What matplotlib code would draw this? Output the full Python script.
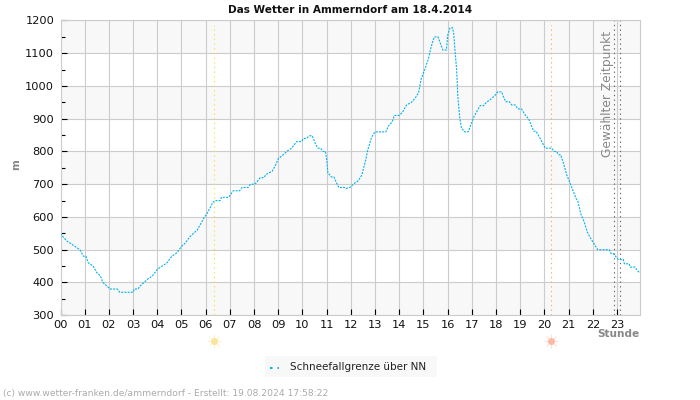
import matplotlib
matplotlib.use("Agg")
import matplotlib.pyplot as plt
from matplotlib.patches import Rectangle
from matplotlib.lines import Line2D

hours = [0.0,0.1,0.25,0.4,0.6,0.8,0.95,1.05,1.15,1.35,1.5,1.65,1.75,1.9,2.05,2.35,2.45,3.0,3.05,3.2,3.3,3.45,3.6,3.8,4.0,4.2,4.4,4.6,4.8,5.0,5.15,5.35,5.5,5.65,5.8,5.95,6.05,6.2,6.3,6.4,6.6,6.65,6.95,7.14,7.4,7.5,7.75,7.85,8.0,8.1,8.25,8.4,8.5,8.75,8.9,9.0,9.2,9.4,9.55,9.75,9.95,10.05,10.15,10.3,10.4,10.45,10.55,10.65,10.75,10.85,10.95,11.0,11.05,11.2,11.3,11.4,11.5,11.75,11.8,11.95,12.15,12.3,12.45,12.6,12.7,12.85,13.0,13.45,13.55,13.7,13.8,14.0,14.15,14.3,14.5,14.65,14.8,14.9,15.05,15.2,15.3,15.4,15.45,15.6,15.7,15.8,15.95,16.0,16.1,16.2,16.25,16.3,16.37,16.42,16.5,16.57,16.7,16.85,16.93,17.09,17.34,17.48,17.6,17.82,17.96,18.07,18.23,18.3,18.4,18.55,18.65,18.8,18.9,19.05,19.2,19.34,19.45,19.55,19.65,19.82,20.03,20.3,20.4,20.5,20.58,20.67,20.8,20.92,21.06,21.2,21.3,21.38,21.5,21.64,21.77,21.89,22.05,22.2,22.68,22.75,22.85,22.96,23.06,23.26,23.3,23.5,23.54,23.75,23.8,23.92]
snow_line = [550,540,527,520,510,500,480,480,460,450,430,420,400,390,380,380,370,370,380,380,390,400,410,420,440,450,460,480,490,510,520,540,550,560,580,600,610,630,645,650,650,660,660,680,680,690,690,700,700,705,720,720,730,740,760,778,790,803,810,830,830,840,840,848,848,840,820,810,810,800,800,775,735,722,722,705,690,690,687,690,703,710,728,770,805,843,860,860,878,890,910,910,922,942,950,962,980,1020,1050,1082,1115,1140,1150,1150,1130,1110,1110,1155,1178,1178,1160,1110,1050,968,902,871,860,860,876,907,940,940,950,962,972,982,982,968,952,952,942,942,930,930,912,900,881,862,862,840,810,810,800,800,790,790,760,728,703,677,657,648,610,585,554,537,518,500,500,488,488,478,470,470,457,457,447,447,440,430]
hour_labels = [f"{h:02d}" for h in range(24)]
y_ticks = list(range(300, 1201, 100))
y_minor = list(range(350, 1200, 100))
bands = [300, 500, 700, 900, 1100]
sunrise, sunset = 6.36, 20.28
selected = [22.88, 23.13]

GRID = "#cccccc"
fig = plt.figure(figsize=(7, 4), dpi=100)
ax = fig.add_axes([60.5/700, 1-315.2/400, 579.8/700, 294.7/400])
ax.set_xlim(0, 23.96)
ax.set_ylim(300, 1200)
for b in bands:
    ax.axhspan(b, b+100, color="#f8f8f8", lw=0, zorder=0)
ax.set_xticks(range(24), hour_labels)
ax.set_yticks(y_ticks)
ax.set_yticks(y_minor, minor=True)
ax.grid(True, which="major", color=GRID, lw=0.8, zorder=1)
ax.set_axisbelow(True)
ax.tick_params(which="major", axis="x", direction="in", length=4, width=0.8, color="black",
               labelsize=8.2, labelcolor="#111111", pad=3.5)
ax.tick_params(which="major", axis="y", direction="in", length=4, width=0.8, color="black",
               labelsize=8.2, labelcolor="#111111", pad=4.5)
ax.tick_params(which="minor", axis="y", direction="in", length=3, width=0.8, color="black")
for s in ax.spines.values():
    s.set_color(GRID)
    s.set_linewidth(0.8)

ax.plot([sunrise]*2, [300, 1185], color="#f2e040", lw=0.8, ls=(0, (1.2, 3)), zorder=2)
ax.plot([sunset]*2, [300, 1185], color="#f0b060", lw=0.8, ls=(0, (1.2, 3)), zorder=2)
for t in selected:
    ax.plot([t, t], [300, 1200], color="#666666", lw=0.8, ls=(0, (1.2, 3)), zorder=2)
ax.plot(hours, snow_line, color="#00b0f0", lw=0.8, ls=(0, (1.8, 1.1)), zorder=3)

ax.text(22.88, 1167, "Gewählter Zeitpunkt", rotation=90, color="#888888", fontsize=8.8,
        ha="right", va="top", zorder=4)
ax.set_title("Das Wetter in Ammerndorf am 18.4.2014", fontsize=7.55, fontweight="bold",
             color="#111111", x=(350-60.5)/579.8, pad=5.2)

tr = ax.get_xaxis_transform()
sun_y = -26/294.7
for t, c, r in [(sunrise, "#fbe39a", "#fdf0c4"), (sunset, "#fbb9a3", "#fddcd0")]:
    ax.plot([t], [sun_y], marker="+", ms=10.5, mew=0.7, color=r, transform=tr, clip_on=False)
    ax.plot([t], [sun_y], marker="x", ms=7.5, mew=0.7, color=r, transform=tr, clip_on=False)
    ax.plot([t], [sun_y], marker="o", ms=5, mew=0, color=c, transform=tr, clip_on=False)

fig.text(639/700, 1-334/400, "Stunde", ha="right", va="center", fontsize=7.6,
         fontweight="bold", color="#888888")
fig.text(16/700, 1-165/400, "m", rotation=90, ha="center", va="center", fontsize=7.6,
         fontweight="bold", color="#888888")
fig.add_artist(Rectangle((265/700, 1-377/400), 172/700, 21/400, transform=fig.transFigure,
                         color="#f8f8f8", lw=0))
fig.add_artist(Line2D([270/700, 279/700], [1-367.5/400]*2, color="#00b0f0", lw=1.4,
                      ls=(0, (1.3, 2.6)), transform=fig.transFigure))
fig.text(290/700, 1-366.5/400, "Schneefallgrenze über NN", ha="left", va="center",
         fontsize=7.5, color="#222222")
fig.text(3/700, 1-393.5/400, "(c) www.wetter-franken.de/ammerndorf - Erstellt: 19.08.2024 17:58:22",
         ha="left", va="center", fontsize=6.6, color="#aaaaaa")
fig.savefig("out.png", dpi=100)
